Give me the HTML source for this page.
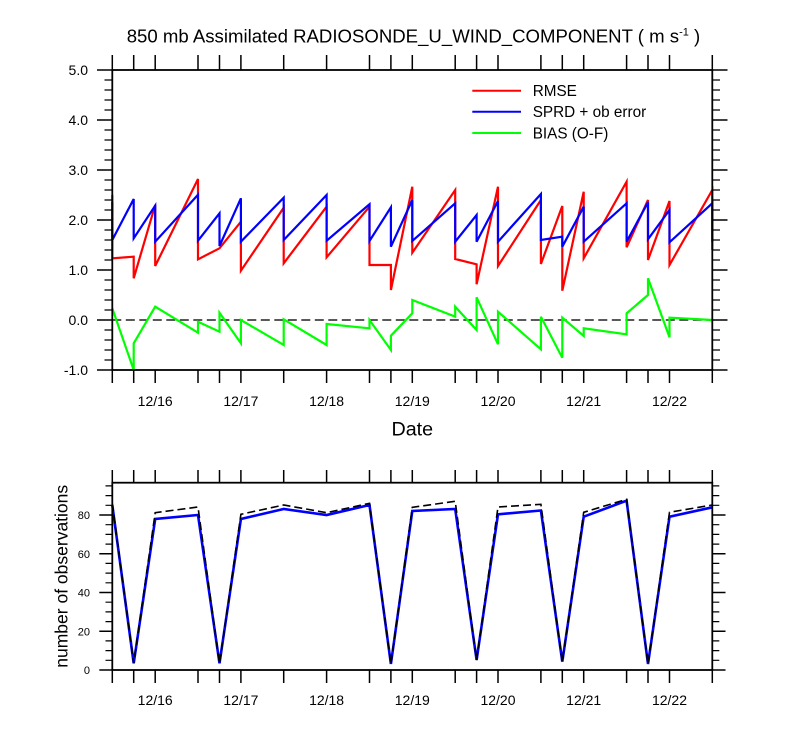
<!DOCTYPE html>
<html>
<head>
<meta charset="utf-8">
<style>
html,body{margin:0;padding:0;background:#fff;}
svg{display:block;}
text{font-family:"Liberation Sans",Arial,sans-serif;fill:#000;}
</style>
</head>
<body>
<svg width="800" height="750" viewBox="0 0 800 750" xmlns="http://www.w3.org/2000/svg">
<rect x="0" y="0" width="800" height="750" fill="#fff"/>

<!-- Title -->
<text x="126.7" y="42.7" font-size="18.6">850 mb Assimilated RADIOSONDE_U_WIND_COMPONENT ( m s<tspan font-size="11" dy="-7">-1</tspan><tspan dy="7"> )</tspan></text>

<!-- ================= TOP PLOT ================= -->
<!-- zero dashed line -->
<path d="M112.3 320 H712.3" stroke="#222" stroke-width="1.6" stroke-dasharray="9 4.5" fill="none"/>

<!-- RMSE red -->
<polyline fill="none" stroke="#ff0000" stroke-width="2.2" stroke-linejoin="miter" points="112.3,195 112.3,258.3 133.7,256.7 133.7,278.3 155.2,205 155.2,266 198,179 198,259.3 219.5,248.3 240.9,221.7 240.9,270.7 283.7,207.7 283.7,263.3 326.6,206.7 326.6,257.3 369.5,206.7 369.5,265 390.9,265 390.9,290 412.3,186.7 412.3,252.7 455.2,190 455.2,259 476.6,264.3 476.6,284.3 498,186.7 498,266 540.9,200 540.9,264 562.3,206 562.3,290.7 583.7,191.7 583.7,258.3 626.6,181.7 626.6,247.3 648,200 648,260 669.5,201 669.5,265 712.3,190 712.3,250"/>

<!-- SPRD blue -->
<polyline fill="none" stroke="#0000ff" stroke-width="2.2" points="112.3,202 112.3,240 133.7,199 133.7,238.3 155.2,205.7 155.2,241.7 198,194.7 198,240.7 219.5,213.3 219.5,246 240.9,198.3 240.9,241.7 283.7,197.7 283.7,240 326.6,195 326.6,240.7 369.5,204.3 369.5,241 390.9,207.3 390.9,246.7 412.3,200 412.3,241 455.2,203.3 455.2,241.7 476.6,215 476.6,241.7 498,201 498,241.7 540.9,194 540.9,240 562.3,236.7 562.3,246.7 583.7,206.7 583.7,241.7 626.6,203.3 626.6,241.7 648,202.3 648,239.3 669.5,210 669.5,242.3 712.3,203.3 712.3,241.7"/>

<!-- BIAS green -->
<polyline fill="none" stroke="#00ff00" stroke-width="2.2" points="112.3,308.3 133.7,370 133.7,343.3 155.2,306.7 198,332.7 198,321.7 219.5,331.7 219.5,312.7 240.9,343.3 240.9,320 283.7,345 283.7,319.3 326.6,345 326.6,324 369.5,328.3 369.5,320 390.9,350 390.9,335.7 412.3,313.3 412.3,300 455.2,316.7 455.2,306.7 476.6,330 476.6,297.3 498,344.3 498,311.7 540.9,349.3 540.9,316.7 562.3,357.7 562.3,317.7 583.7,336 583.7,328.3 626.6,334.3 626.6,313.3 648,295 648,278.3 669.5,337.3 669.5,317.7 712.3,320"/>

<!-- frame -->
<rect x="112.3" y="70" width="600" height="300" fill="none" stroke="#000" stroke-width="1.8"/>

<!-- x ticks top plot -->
<path stroke="#000" stroke-width="1.5" fill="none" d="
M112.3 55V70M112.3 370V383
M133.7 55V70M133.7 370V383
M155.2 55V70M155.2 370V383
M198 55V70M198 370V383
M219.5 55V70M219.5 370V383
M240.9 55V70M240.9 370V383
M283.7 55V70M283.7 370V383
M326.6 55V70M326.6 370V383
M369.5 55V70M369.5 370V383
M390.9 55V70M390.9 370V383
M412.3 55V70M412.3 370V383
M455.2 55V70M455.2 370V383
M476.6 55V70M476.6 370V383
M498 55V70M498 370V383
M540.9 55V70M540.9 370V383
M562.3 55V70M562.3 370V383
M583.7 55V70M583.7 370V383
M626.6 55V70M626.6 370V383
M648 55V70M648 370V383
M669.5 55V70M669.5 370V383
M712.3 55V70M712.3 370V383"/>

<!-- y ticks top plot -->
<path stroke="#000" stroke-width="1.5" fill="none" d="
M97 70H112.3M97 120H112.3M97 170H112.3M97 220H112.3M97 270H112.3M97 320H112.3M97 370H112.3
M712.3 70H727.5M712.3 120H727.5M712.3 170H727.5M712.3 220H727.5M712.3 270H727.5M712.3 320H727.5M712.3 370H727.5"/>
<path stroke="#000" stroke-width="1.2" fill="none" d="
M104.5 80H112.3M104.5 90H112.3M104.5 100H112.3M104.5 110H112.3
M104.5 130H112.3M104.5 140H112.3M104.5 150H112.3M104.5 160H112.3
M104.5 180H112.3M104.5 190H112.3M104.5 200H112.3M104.5 210H112.3
M104.5 230H112.3M104.5 240H112.3M104.5 250H112.3M104.5 260H112.3
M104.5 280H112.3M104.5 290H112.3M104.5 300H112.3M104.5 310H112.3
M104.5 330H112.3M104.5 340H112.3M104.5 350H112.3M104.5 360H112.3
M712.3 80H720M712.3 90H720M712.3 100H720M712.3 110H720
M712.3 130H720M712.3 140H720M712.3 150H720M712.3 160H720
M712.3 180H720M712.3 190H720M712.3 200H720M712.3 210H720
M712.3 230H720M712.3 240H720M712.3 250H720M712.3 260H720
M712.3 280H720M712.3 290H720M712.3 300H720M712.3 310H720
M712.3 330H720M712.3 340H720M712.3 350H720M712.3 360H720"/>

<!-- y labels top -->
<g font-size="14" text-anchor="end">
<text x="88" y="75">5.0</text>
<text x="88" y="125">4.0</text>
<text x="88" y="175">3.0</text>
<text x="88" y="225">2.0</text>
<text x="88" y="275">1.0</text>
<text x="88" y="325">0.0</text>
<text x="88" y="375">-1.0</text>
</g>

<!-- x labels top -->
<g font-size="14" text-anchor="middle">
<text x="155.2" y="406">12/16</text>
<text x="240.9" y="406">12/17</text>
<text x="326.6" y="406">12/18</text>
<text x="412.3" y="406">12/19</text>
<text x="498" y="406">12/20</text>
<text x="583.7" y="406">12/21</text>
<text x="669.5" y="406">12/22</text>
</g>
<text x="412.3" y="435.7" font-size="19.7" text-anchor="middle">Date</text>

<!-- legend -->
<path d="M472.3 90.7H521" stroke="#ff0000" stroke-width="2"/>
<path d="M472.3 111.7H521" stroke="#0000ff" stroke-width="2"/>
<path d="M472.3 133H521" stroke="#00ff00" stroke-width="2"/>
<g font-size="15.3">
<text x="532.7" y="96.2">RMSE</text>
<text x="532.7" y="117.2">SPRD + ob error</text>
<text x="532.7" y="138.5">BIAS (O-F)</text>
</g>

<!-- ================= BOTTOM PLOT ================= -->
<polyline fill="none" stroke="#0000ff" stroke-width="2.6" points="112.3,505 133.7,663.3 155.2,519 198,515 219.5,663.3 240.9,519 283.7,509 326.6,515 369.5,505 390.9,664 412.3,511 455.2,509 476.6,660 498,514.3 540.9,510.5 562.3,661.7 583.7,516.7 626.6,500.7 648,664 669.5,516.7 712.3,507.3"/>
<polyline fill="none" stroke="#000" stroke-width="1.6" stroke-dasharray="8 4" points="112.3,503.3 133.7,663.3 155.2,512.7 198,507 219.5,663.5 240.9,514.3 283.7,505 326.6,512.7 369.5,503.3 390.9,664 412.3,507.3 455.2,501.3 476.6,660 498,507 540.9,504.3 562.3,661.7 583.7,512.3 626.6,499.3 648,664 669.5,512.3 712.3,505"/>

<rect x="112.3" y="482.7" width="600" height="187.3" fill="none" stroke="#000" stroke-width="1.8"/>

<!-- x ticks bottom -->
<path stroke="#000" stroke-width="1.5" fill="none" d="
M112.3 470V482.7M112.3 670V683
M133.7 470V482.7M133.7 670V683
M155.2 470V482.7M155.2 670V683
M198 470V482.7M198 670V683
M219.5 470V482.7M219.5 670V683
M240.9 470V482.7M240.9 670V683
M283.7 470V482.7M283.7 670V683
M326.6 470V482.7M326.6 670V683
M369.5 470V482.7M369.5 670V683
M390.9 470V482.7M390.9 670V683
M412.3 470V482.7M412.3 670V683
M455.2 470V482.7M455.2 670V683
M476.6 470V482.7M476.6 670V683
M498 470V482.7M498 670V683
M540.9 470V482.7M540.9 670V683
M562.3 470V482.7M562.3 670V683
M583.7 470V482.7M583.7 670V683
M626.6 470V482.7M626.6 670V683
M648 470V482.7M648 670V683
M669.5 470V482.7M669.5 670V683
M712.3 470V482.7M712.3 670V683"/>

<!-- y ticks bottom -->
<path stroke="#000" stroke-width="1.5" fill="none" d="
M99.3 670H112.3M99.3 631.25H112.3M99.3 592.5H112.3M99.3 553.75H112.3M99.3 515H112.3
M712.3 670H725.5M712.3 631.25H725.5M712.3 592.5H725.5M712.3 553.75H725.5M712.3 515H725.5"/>
<path stroke="#000" stroke-width="1.2" fill="none" d="
M105.5 660.3H112.3M105.5 650.6H112.3M105.5 640.9H112.3M105.5 621.6H112.3M105.5 611.9H112.3M105.5 602.2H112.3M105.5 582.8H112.3M105.5 573.1H112.3M105.5 563.4H112.3M105.5 544.1H112.3M105.5 534.4H112.3M105.5 524.7H112.3M105.5 505.3H112.3M105.5 495.6H112.3M105.5 485.9H112.3
M712.3 660.3H719.3M712.3 650.6H719.3M712.3 640.9H719.3M712.3 621.6H719.3M712.3 611.9H719.3M712.3 602.2H719.3M712.3 582.8H719.3M712.3 573.1H719.3M712.3 563.4H719.3M712.3 544.1H719.3M712.3 534.4H719.3M712.3 524.7H719.3M712.3 505.3H719.3M712.3 495.6H719.3M712.3 485.9H719.3"/>

<!-- y labels bottom -->
<g font-size="11" text-anchor="end">
<text x="90" y="674">0</text>
<text x="90" y="635.25">20</text>
<text x="90" y="596.5">40</text>
<text x="90" y="557.75">60</text>
<text x="90" y="519">80</text>
</g>

<!-- x labels bottom -->
<g font-size="14" text-anchor="middle">
<text x="155.2" y="705">12/16</text>
<text x="240.9" y="705">12/17</text>
<text x="326.6" y="705">12/18</text>
<text x="412.3" y="705">12/19</text>
<text x="498" y="705">12/20</text>
<text x="583.7" y="705">12/21</text>
<text x="669.5" y="705">12/22</text>
</g>

<text transform="translate(67.5,576.3) rotate(-90)" font-size="17.5" text-anchor="middle">number of observations</text>
</svg>
</body>
</html>
